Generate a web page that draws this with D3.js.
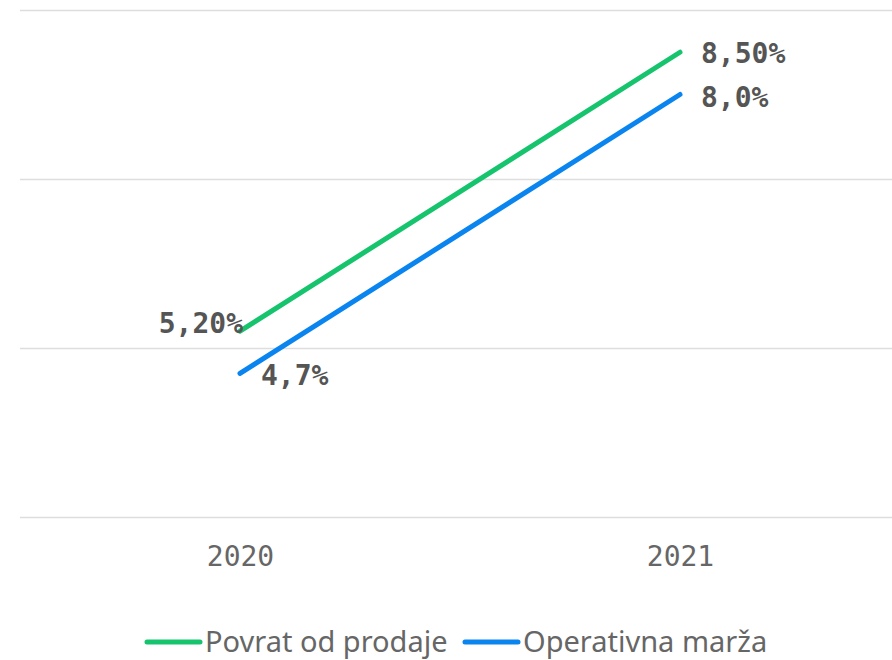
<!DOCTYPE html>
<html>
<head>
<meta charset="utf-8">
<script src="https://cdn.jsdelivr.net/npm/d3@7"></script>
<style>
  body { margin: 0; background: #fff; }
  .grid line { stroke: #ddd; stroke-width: 1.5; }
  .grid path { display: none; }
</style>
</head>
<body>
<div id="wrapper"></div>
<script>
// data
const years = ['2020', '2021'];
const povrat = [5.20, 8.50];
const povratLabels = ['5,20%', '8,50%'];
const marza = [4.7, 8.0];
const marzaLabels = ['4,7%', '8,0%'];
const gridTicks = [3, 5, 7, 9];

const seriesNames = ['Povrat od prodaje', 'Operativna marža'];
const colors = ['#16c46e', '#0a84ef'];

// dimensions
let dimensions = {
  width: 892,
  height: 660,
  margin: { top: 10, right: 0, bottom: 143, left: 20 }
};
dimensions.boundW = dimensions.width - dimensions.margin.left - dimensions.margin.right;
dimensions.boundH = dimensions.height - dimensions.margin.top - dimensions.margin.bottom;

const svg = d3.select('#wrapper').append('svg')
  .attr('width', dimensions.width)
  .attr('height', dimensions.height);

const bounds = svg.append('g')
  .attr('transform', `translate(${dimensions.margin.left},${dimensions.margin.top})`);

// scales
const yScale = d3.scaleLinear()
  .domain([3, 9])
  .range([dimensions.boundH, 0]);

const xScale = d3.scalePoint()
  .domain(years)
  .range([220, 660]);

// grid
const yAxisGenerator = d3.axisLeft(yScale)
  .tickValues(gridTicks)
  .tickSize(-dimensions.boundW)
  .tickFormat('');

bounds.append('g')
  .attr('class', 'grid')
  .call(yAxisGenerator);

// x labels
const xAxisGenerator = d3.axisBottom(xScale).tickSize(0).tickPadding(29);
const xAxis = bounds.append('g')
  .attr('transform', `translate(0,${dimensions.boundH})`)
  .call(xAxisGenerator);
xAxis.select('.domain').remove();
xAxis.selectAll('text')
  .attr('font-family', 'DejaVu Sans Mono')
  .attr('font-size', 28)
  .attr('fill', '#666');

// lines
const lineGen = d3.line()
  .x((d, i) => xScale(years[i]))
  .y(d => yScale(d));

[povrat, marza].forEach((vals, k) => {
  bounds.append('path')
    .attr('d', lineGen(vals))
    .attr('fill', 'none')
    .attr('stroke', colors[k])
    .attr('stroke-width', 5)
    .attr('stroke-linecap', 'round');
});

// data labels
const labelStyle = sel => sel
  .attr('font-family', 'DejaVu Sans Mono')
  .attr('font-weight', 'bold')
  .attr('font-size', 28)
  .attr('fill', '#555');

// povrat: first label left of point, second right
bounds.append('text')
  .attr('x', xScale(years[0]) + 3)
  .attr('y', yScale(povrat[0]) + 2)
  .attr('text-anchor', 'end')
  .text(povratLabels[0])
  .call(labelStyle);
bounds.append('text')
  .attr('x', xScale(years[1]) + 21)
  .attr('y', yScale(povrat[1]) + 11)
  .text(povratLabels[1])
  .call(labelStyle);

// marza: both labels right of point
marza.forEach((v, i) => {
  bounds.append('text')
    .attr('x', xScale(years[i]) + 21)
    .attr('y', yScale(v) + 12)
    .text(marzaLabels[i])
    .call(labelStyle);
});

// legend
const legend = svg.append('g').attr('transform', 'translate(0,642)');
const legendX = [147, 465];
seriesNames.forEach((name, k) => {
  const g = legend.append('g').attr('transform', `translate(${legendX[k]},0)`);
  g.append('line')
    .attr('x1', 0).attr('x2', 53)
    .attr('stroke', colors[k])
    .attr('stroke-width', 5)
    .attr('stroke-linecap', 'round');
  g.append('text')
    .attr('x', 58)
    .attr('y', 10)
    .attr('font-family', 'Noto Sans')
    .attr('font-size', 29)
    .attr('fill', '#666')
    .text(name);
});
</script>
</body>
</html>
